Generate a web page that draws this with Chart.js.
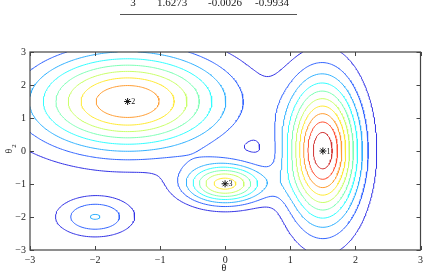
<!DOCTYPE html>
<html>
<head>
<meta charset="utf-8">
<script src="https://cdn.jsdelivr.net/npm/chart.js@4.4.0/dist/chart.umd.min.js"></script>
<style>
  html, body { margin: 0; padding: 0; background: #fff; }
  #wrap { position: relative; width: 427px; height: 273px; overflow: hidden; }
</style>
</head>
<body>
<div id="wrap"><canvas id="chart" width="427" height="273"></canvas></div>
<script>
// peaks of the surface
const peakX = [1.5, -1.5, 0.0, -2.0];
const peakY = [0.0, 1.5, -1.0, -2.0];
const peakAmp = [10.7, 8.95, 7.4, 3.03];
const peakSx = [0.38, 1.02, 0.42, 0.405];
const peakSy = [1.45, 1.02, 0.42, 0.405];

// contour levels
const levels = [1, 2, 3, 4, 5, 6, 7, 8, 9, 10];

// marked modes
const modeX = [1.5, -1.5, -0.0026];
const modeY = [0.0, 1.5, -0.9934];
const modeLabels = ['1', '2', '3'];

// table row above the plot
const tableRow = ['3', '1.6273', '-0.0026', '-0.9934'];
const tableColX = [133, 172, 225, 272];

const tickValues = [-3, -2, -1, 0, 1, 2, 3];
const tickLabels = ['\u22123', '\u22122', '\u22121', '0', '1', '2', '3'];

const lo = -3, hi = 3, n = 180;
const step = (hi - lo) / n;

function surface(x, y) {
  let s = 0;
  for (let k = 0; k < peakX.length; k++) {
    const dx = (x - peakX[k]) / peakSx[k];
    const dy = (y - peakY[k]) / peakSy[k];
    s += peakAmp[k] * Math.exp(-0.5 * (dx * dx + dy * dy));
  }
  return s;
}

const grid = [];
let zMax = -Infinity;
for (let j = 0; j <= n; j++) {
  const row = [];
  for (let i = 0; i <= n; i++) {
    const v = surface(lo + i * step, lo + j * step);
    row.push(v);
    if (v > zMax) zMax = v;
  }
  grid.push(row);
}

// jet colour map, slightly washed like the thin anti-aliased lines of the original
function jet(t) {
  const c = v => Math.max(0, Math.min(1, v));
  const r = c(1.5 - Math.abs(4 * t - 3)), g = c(1.5 - Math.abs(4 * t - 2)), b = c(1.5 - Math.abs(4 * t - 1));
  const w = v => Math.round(255 * (0.8 * v + 0.2));
  return 'rgb(' + w(r) + ',' + w(g) + ',' + w(b) + ')';
}

// marching squares
function edgePoint(L, i0, j0, i1, j1) {
  const v0 = grid[j0][i0], v1 = grid[j1][i1];
  const t = (L - v0) / (v1 - v0);
  return { x: lo + (i0 + (i1 - i0) * t) * step, y: lo + (j0 + (j1 - j0) * t) * step };
}

function segmentsFor(L) {
  const segs = [];
  for (let j = 0; j < n; j++) {
    for (let i = 0; i < n; i++) {
      const a = grid[j][i], b = grid[j][i + 1], c = grid[j + 1][i + 1], d = grid[j + 1][i];
      const idx = (a > L ? 1 : 0) | (b > L ? 2 : 0) | (c > L ? 4 : 0) | (d > L ? 8 : 0);
      if (idx === 0 || idx === 15) continue;
      const e = [];
      e[0] = (a > L) !== (b > L) ? edgePoint(L, i, j, i + 1, j) : null;
      e[1] = (b > L) !== (c > L) ? edgePoint(L, i + 1, j, i + 1, j + 1) : null;
      e[2] = (d > L) !== (c > L) ? edgePoint(L, i, j + 1, i + 1, j + 1) : null;
      e[3] = (a > L) !== (d > L) ? edgePoint(L, i, j, i, j + 1) : null;
      const hit = e.filter(p => p);
      if (hit.length === 2) { segs.push(hit); continue; }
      const centerHigh = (a + b + c + d) / 4 > L;
      if ((idx === 5) === centerHigh) {
        segs.push([e[0], e[1]], [e[2], e[3]]);
      } else {
        segs.push([e[3], e[0]], [e[1], e[2]]);
      }
    }
  }
  return segs;
}

const keyOf = p => p.x.toFixed(7) + ',' + p.y.toFixed(7);

function chain(segs) {
  const map = new Map();
  segs.forEach((s, k) => {
    for (const p of s) {
      const key = keyOf(p);
      if (!map.has(key)) map.set(key, []);
      map.get(key).push(k);
    }
  });
  const used = new Array(segs.length).fill(false);
  const lines = [];
  for (let k = 0; k < segs.length; k++) {
    if (used[k]) continue;
    used[k] = true;
    const line = [segs[k][0], segs[k][1]];
    for (const atEnd of [true, false]) {
      while (true) {
        const p = atEnd ? line[line.length - 1] : line[0];
        const next = map.get(keyOf(p)).find(m => !used[m]);
        if (next === undefined) break;
        used[next] = true;
        const s = segs[next];
        const q = keyOf(s[0]) === keyOf(p) ? s[1] : s[0];
        if (atEnd) line.push(q); else line.unshift(q);
      }
    }
    lines.push(line);
  }
  return lines;
}

const datasets = levels.map(L => {
  const data = [];
  chain(segmentsFor(L)).forEach(line => {
    line.forEach(p => data.push(p));
    data.push({ x: line[line.length - 1].x, y: null });
  });
  return {
    label: 'level ' + L,
    data: data,
    showLine: true,
    borderColor: jet(L / zMax),
    borderWidth: 1,
    pointRadius: 0,
    spanGaps: false,
    tension: 0
  };
});

datasets.push({
  label: 'modes',
  data: modeX.map((x, k) => ({ x: x, y: modeY[k] })),
  showLine: false,
  pointStyle: 'star',
  pointRadius: 3.5,
  borderColor: '#111',
  backgroundColor: '#111',
  borderWidth: 1
});

const serif = "'Liberation Serif', 'DejaVu Serif', serif";

const decor = {
  id: 'decor',
  afterDraw(chart) {
    const ctx = chart.ctx, a = chart.chartArea;
    const xs = chart.scales.x, ys = chart.scales.y;
    ctx.save();
    // box and inward ticks
    ctx.strokeStyle = '#444';
    ctx.lineWidth = 1.2;
    ctx.strokeRect(a.left, a.top, a.right - a.left, a.bottom - a.top);
    ctx.lineWidth = 1;
    ctx.beginPath();
    tickValues.forEach(v => {
      const px = Math.round(xs.getPixelForValue(v)) + 0.5;
      ctx.moveTo(px, a.bottom); ctx.lineTo(px, a.bottom - 4);
      ctx.moveTo(px, a.top); ctx.lineTo(px, a.top + 4);
      const py = Math.round(ys.getPixelForValue(v)) + 0.5;
      ctx.moveTo(a.left, py); ctx.lineTo(a.left + 4, py);
      ctx.moveTo(a.right, py); ctx.lineTo(a.right - 4, py);
    });
    ctx.stroke();

    // mode labels
    ctx.fillStyle = '#111';
    ctx.font = '8px ' + serif;
    ctx.textBaseline = 'middle';
    ctx.textAlign = 'left';
    modeLabels.forEach((t, k) => {
      ctx.fillText(t, xs.getPixelForValue(modeX[k]) + 3.5, ys.getPixelForValue(modeY[k]) + 0.5);
    });

    // axis titles
    ctx.font = '10px ' + serif;
    ctx.textAlign = 'center';
    ctx.textBaseline = 'alphabetic';
    ctx.fillText('\u03b8', 224, 271);
    ctx.font = '7px ' + serif;
    ctx.fillText('1', 229, 277);
    ctx.save();
    ctx.translate(9, 151);
    ctx.rotate(-Math.PI / 2);
    ctx.font = '10px ' + serif;
    ctx.fillText('\u03b8', 0, 3);
    ctx.font = '7px ' + serif;
    ctx.fillText('2', 5, 7);
    ctx.restore();

    // table row above
    ctx.font = '11px ' + serif;
    ctx.fillStyle = '#222';
    tableRow.forEach((t, k) => ctx.fillText(t, tableColX[k], 6));
    ctx.strokeStyle = '#555';
    ctx.lineWidth = 1;
    ctx.beginPath();
    ctx.moveTo(120, 14.5); ctx.lineTo(297, 14.5);
    ctx.stroke();
    ctx.restore();
  }
};

const axisTicks = {
  font: { family: serif, size: 10 },
  color: '#222',
  stepSize: 1,
  callback: v => tickLabels[tickValues.indexOf(v)]
};

new Chart(document.getElementById('chart'), {
  type: 'scatter',
  data: { datasets: datasets },
  options: {
    responsive: false,
    devicePixelRatio: 1,
    animation: false,
    layout: { padding: { top: 52, right: 6, left: 0, bottom: 0 } },
    plugins: { legend: { display: false }, tooltip: { enabled: false } },
    scales: {
      x: {
        min: lo, max: hi,
        grid: { display: false, drawTicks: false },
        border: { display: false },
        ticks: Object.assign({ padding: 4, maxRotation: 0 }, axisTicks),
        afterFit: s => { s.height = 23; }
      },
      y: {
        min: lo, max: hi,
        grid: { display: false, drawTicks: false },
        border: { display: false },
        ticks: Object.assign({ padding: 4 }, axisTicks),
        afterFit: s => { s.width = 30; }
      }
    }
  },
  plugins: [decor]
});
</script>
</body>
</html>
